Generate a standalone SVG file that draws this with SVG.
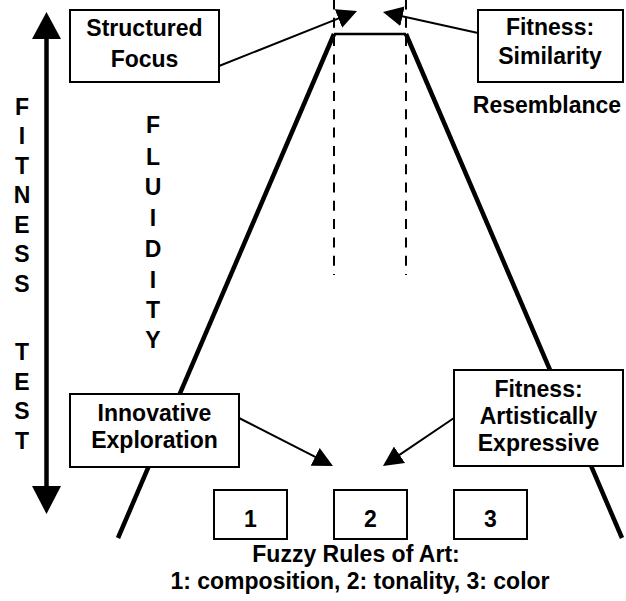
<svg xmlns="http://www.w3.org/2000/svg" width="626" height="601" viewBox="0 0 626 601">
<style>
text{font-family:"Liberation Sans",Arial,sans-serif;font-weight:bold;fill:#000;}
.lbl{font-size:23px;text-anchor:middle;}
.vert{font-size:23px;text-anchor:middle;}
.box{fill:#fff;stroke:#000;stroke-width:2;}
.side{stroke:#000;stroke-width:4.5;fill:none;}
.dash{stroke:#000;stroke-width:2;stroke-dasharray:10 8.3;fill:none;}
.conn{stroke:#000;stroke-width:2;fill:none;marker-end:url(#ah);}
</style>
<defs>
<marker id="ah" markerUnits="userSpaceOnUse" markerWidth="20" markerHeight="20" refX="5" refY="10" orient="auto">
<path d="M0,0 L20,10 L0,20 z" fill="#000"/>
</marker>
</defs>
<rect width="626" height="601" fill="#fff"/>
<g id="funnel">
<line class="side" x1="334" y1="34" x2="118" y2="538"/>
<line class="side" x1="406" y1="34" x2="622" y2="538"/>
<line x1="334" y1="34" x2="406" y2="34" stroke="#000" stroke-width="2.5"/>
<line class="dash" x1="334" y1="-0.5" x2="334" y2="275"/>
<line class="dash" x1="406" y1="-0.5" x2="406" y2="275"/>
</g>
<g id="fitness-test-axis">
<line x1="46.5" y1="37" x2="46.5" y2="488" stroke="#000" stroke-width="4.5"/>
<polygon points="46.5,12 61,39 32,39" fill="#000"/>
<polygon points="46.5,514 61,486 32,486" fill="#000"/>
<text class="vert" x="22" y="114.5">F</text>
<text class="vert" x="22" y="144">I</text>
<text class="vert" x="22" y="173.5">T</text>
<text class="vert" x="22" y="203">N</text>
<text class="vert" x="22" y="232.5">E</text>
<text class="vert" x="22" y="262">S</text>
<text class="vert" x="22" y="291.5">S</text>
<text class="vert" x="22" y="360">T</text>
<text class="vert" x="22" y="389.5">E</text>
<text class="vert" x="22" y="419">S</text>
<text class="vert" x="22" y="448.5">T</text>
</g>
<g id="fluidity">
<text class="vert" x="153" y="133">F</text>
<text class="vert" x="153" y="164.5">L</text>
<text class="vert" x="153" y="195">U</text>
<text class="vert" x="153" y="226">I</text>
<text class="vert" x="153" y="257">D</text>
<text class="vert" x="153" y="288">I</text>
<text class="vert" x="153" y="317.5">T</text>
<text class="vert" x="153" y="348">Y</text>
</g>
<g id="connectors">
<line class="conn" x1="219" y1="66" x2="343.1" y2="16.6"/>
<line class="conn" x1="478" y1="33" x2="397.6" y2="15.2"/>
<line class="conn" x1="239" y1="418" x2="319.6" y2="459.2"/>
<line class="conn" x1="454" y1="418" x2="395.4" y2="457.6"/>
</g>
<g id="structured-focus">
<rect class="box" x="70" y="10" width="149" height="72"/>
<text class="lbl" x="144.5" y="36">Structured</text>
<text class="lbl" x="144.5" y="67">Focus</text>
</g>
<g id="fitness-similarity">
<rect class="box" x="478" y="10" width="145" height="72"/>
<text class="lbl" x="550" y="35">Fitness:</text>
<text class="lbl" x="550" y="64">Similarity</text>
</g>
<g id="resemblance">
<text class="lbl" x="547" y="113">Resemblance</text>
</g>
<g id="innovative-exploration">
<rect class="box" x="70" y="394" width="169" height="73"/>
<text class="lbl" x="154.5" y="421">Innovative</text>
<text class="lbl" x="154.5" y="448">Exploration</text>
</g>
<g id="fitness-artistically-expressive">
<rect class="box" x="454" y="370" width="169" height="96"/>
<text class="lbl" x="538.5" y="397">Fitness:</text>
<text class="lbl" x="538.5" y="424">Artistically</text>
<text class="lbl" x="538.5" y="451">Expressive</text>
</g>
<g id="rule-1">
<rect class="box" x="214" y="490" width="73" height="49"/>
<text class="lbl" x="250.5" y="527">1</text>
</g>
<g id="rule-2">
<rect class="box" x="334" y="490" width="73" height="49"/>
<text class="lbl" x="370.5" y="527">2</text>
</g>
<g id="rule-3">
<rect class="box" x="454" y="490" width="73" height="49"/>
<text class="lbl" x="490.5" y="527">3</text>
</g>
<g id="caption">
<text class="lbl" x="356" y="562">Fuzzy Rules of Art:</text>
<text class="lbl" x="360" y="589">1: composition, 2: tonality, 3: color</text>
</g>
</svg>
